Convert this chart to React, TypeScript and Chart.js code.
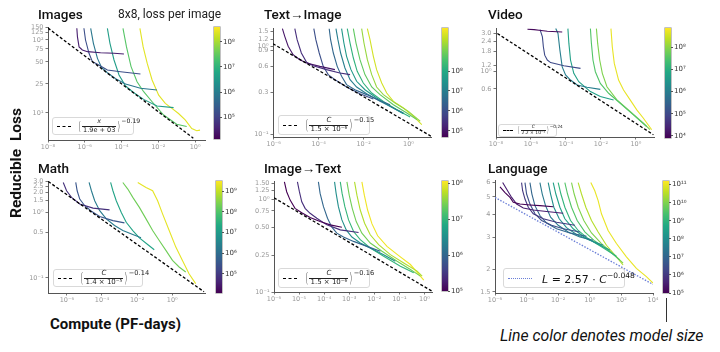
import React, { useEffect, useRef } from 'react';
import { Chart, registerables } from 'chart.js';

Chart.register(...registerables);

type Pt = [number, number];

// ================= DATA =================
// ---- Images (8x8) ----
const imagesXTicks = [1e-8, 1e-6, 1e-4, 1e-2, 1];
const imagesXLabels = ['10⁻⁸', '10⁻⁶', '10⁻⁴', '10⁻²', '10⁰'];
const imagesYTicks = [150, 125, 100, 75, 50, 25, 10];
const imagesYLabels = ['150', '125', '10²', '75', '50', '25', '10¹'];
const imagesModelSizes = [4.5, 5.2, 5.9, 6.6, 7.4, 8.4];
const imagesCurves: Pt[][] = [
  [[3.7e-7, 144], [4e-7, 110], [4.9e-7, 80], [7.4e-7, 72.6], [1.4e-6, 68.9], [7.2e-6, 66.7], [3.9e-5, 65.5], [1.35e-4, 64]],
  [[9e-7, 144], [1.1e-6, 99.5], [1.7e-6, 65.5], [2.6e-6, 50.2], [4.9e-6, 46.2], [1.7e-5, 38.6], [8.9e-5, 36.6], [1.07e-3, 34]],
  [[2.1e-6, 144], [2.95e-6, 89.5], [4.9e-6, 55.8], [8.3e-6, 41.6], [1.7e-5, 35.5], [4.8e-5, 29.4], [1.66e-4, 24.8], [1.07e-3, 21.7], [8.5e-3, 20.6]],
  [[1.7e-5, 144], [2.35e-5, 89.5], [3.9e-5, 53], [7.3e-5, 33], [1.66e-4, 23.3], [4.7e-4, 18.9], [1.6e-3, 15.3], [8.5e-3, 12.4], [0.068, 11.8]],
  [[1.2e-4, 144], [1.86e-4, 80], [3.3e-4, 43], [7e-4, 26.7], [1.6e-3, 19.5], [4.6e-3, 14.2], [0.0195, 9.35], [0.1, 7.0], [0.35, 6.5]],
  [[1e-3, 144], [1.5e-3, 80], [2.5e-3, 47.6], [4.6e-3, 28.2], [0.0105, 17.5], [0.024, 13.5], [0.055, 11.5], [0.126, 9.8], [0.29, 8.0], [0.66, 6.1], [1.23, 5.7], [1.86, 5.8]],
];
const imagesFrontier: Pt[] = [[1e-8, 145], [0.8, 4.5]];
const imagesCbarTicks = [5, 6, 7, 8];

// ---- Text -> Image ----
const t2iXTicks = [1e-6, 1e-4, 1e-2, 1];
const t2iXLabels = ['10⁻⁶', '10⁻⁴', '10⁻²', '10⁰'];
const t2iYTicks = [1.5, 1.2, 1.0, 0.9, 0.6, 0.3, 0.1];
const t2iYLabels = ['1.5', '1.2', '10⁰', '0.9', '0.6', '0.3', '10⁻¹'];
const t2iModelSizes = [5.0, 5.4, 6.0, 6.5, 7.0, 7.6, 8.2, 8.8, 9.3, 9.8];
const t2iCurves: Pt[][] = [
  [[2.44e-6, 1.6], [3.1e-6, 1.31], [4.4e-6, 1.01], [7.3e-6, 0.81], [1.45e-5, 0.711], [2.9e-5, 0.652], [1.13e-4, 0.597], [5.3e-4, 0.548]],
  [[8.7e-6, 1.6], [1.1e-5, 1.2], [1.7e-5, 0.847], [2.9e-5, 0.664], [5.7e-5, 0.608], [2.24e-4, 0.548], [8.8e-4, 0.502], [2.5e-3, 0.481]],
  [[6.1e-5, 1.6], [7.5e-5, 1.2], [1.06e-4, 0.847], [1.6e-4, 0.597], [2.67e-4, 0.481], [5.3e-4, 0.422], [1.75e-3, 0.348], [6.9e-3, 0.292], [0.0272, 0.254]],
  [[2.95e-4, 1.6], [3.4e-4, 1.2], [4.5e-4, 0.847], [6.7e-4, 0.597], [1.05e-3, 0.46], [1.75e-3, 0.37], [4.1e-3, 0.324], [0.0137, 0.285], [0.054, 0.243], [0.151, 0.219]],
  [[5.9e-4, 1.6], [7.2e-4, 1.2], [9.5e-4, 0.847], [1.48e-3, 0.573], [2.5e-3, 0.422], [4.9e-3, 0.348], [0.0137, 0.292], [0.054, 0.239], [0.212, 0.201], [0.594, 0.176]],
  [[1.05e-3, 1.6], [1.33e-3, 1.1], [1.75e-3, 0.776], [2.74e-3, 0.548], [4.9e-3, 0.404], [0.0115, 0.324], [0.038, 0.261], [0.151, 0.21], [0.594, 0.173]],
  [[1.88e-3, 1.6], [2.5e-3, 1.1], [3.5e-3, 0.743], [5.2e-3, 0.525], [9.7e-3, 0.386], [0.023, 0.297], [0.076, 0.239], [0.3, 0.192], [1.18, 0.159]],
  [[3.5e-3, 1.6], [4.6e-3, 1.1], [6.9e-3, 0.711], [0.0115, 0.481], [0.023, 0.348], [0.054, 0.285], [0.212, 0.219], [0.84, 0.176], [2.34, 0.148]],
  [[8.2e-3, 1.6], [0.0104, 1.1], [0.0147, 0.711], [0.023, 0.481], [0.038, 0.348], [0.076, 0.285], [0.252, 0.229], [0.99, 0.184], [3.3, 0.142]],
  [[0.0147, 1.6], [0.0193, 1.2], [0.0272, 0.776], [0.038, 0.548], [0.064, 0.386], [0.107, 0.297], [0.212, 0.239], [0.594, 0.201], [1.66, 0.161], [3.9, 0.13]],
];
const t2iFrontier: Pt[] = [[9.3e-7, 1.08], [10, 0.096]];
const t2iCbarTicks = [5, 6, 7, 8];

// ---- Video ----
const videoXTicks = [1e-8, 1e-6, 1e-4, 1e-2, 1];
const videoXLabels = ['10⁻⁸', '10⁻⁶', '10⁻⁴', '10⁻²', '10⁰'];
const videoYTicks = [3.0, 2.4, 1.8, 1.2, 1.0, 0.6];
const videoYLabels = ['3.0', '2.4', '1.8', '1.2', '10⁰', '0.6'];
const videoModelSizes = [4.0, 5.0, 6.0, 6.7, 7.5, 7.9, 8.7];
const videoCurves: Pt[][] = [
  [[6.3e-7, 3.4], [1.5e-6, 3.36], [2.9e-6, 3.3], [8.6e-6, 3.2], [6.1e-5, 3.14]],
  [[3.3e-6, 3.36], [4.5e-6, 2.72], [5.1e-6, 2.04], [6.1e-6, 1.6], [8.6e-6, 1.39], [1.33e-5, 1.29], [7.6e-5, 1.18], [6.8e-4, 1.09]],
  [[2.6e-5, 3.46], [3.5e-5, 3.0], [4.5e-5, 1.85], [6.1e-5, 1.14], [9.5e-5, 0.9], [1.82e-4, 0.778], [4.4e-4, 0.673], [1.6e-3, 0.63], [9.2e-3, 0.594]],
  [[1.29e-4, 3.46], [1.47e-4, 2.25], [1.82e-4, 1.39], [2.8e-4, 0.944], [5.4e-4, 0.741], [2.5e-3, 0.556], [9.2e-3, 0.481], [0.053, 0.437]],
  [[2.5e-3, 3.46], [2.85e-3, 2.25], [3.5e-3, 1.39], [4.8e-3, 0.99], [9.2e-3, 0.706], [0.0275, 0.53], [0.126, 0.397], [0.72, 0.283], [4.1, 0.202]],
  [[5.5e-3, 3.46], [6.5e-3, 2.25], [8.5e-3, 1.39], [0.012, 0.944], [0.022, 0.641], [0.082, 0.437], [0.468, 0.312], [2.68, 0.222], [6.4, 0.184]],
  [[0.0373, 3.46], [0.0445, 2.04], [0.058, 1.26], [0.102, 0.778], [0.196, 0.583], [0.468, 0.437], [1.12, 0.327], [2.68, 0.257], [8.0, 0.184]],
];
const videoFrontier: Pt[] = [[1.2e-8, 3.0], [10, 0.159]];
const videoCbarTicks = [4, 5, 6, 7, 8];

// ---- Math ----
const mathXTicks = [1e-6, 1e-4, 1e-2, 1];
const mathXLabels = ['10⁻⁶', '10⁻⁴', '10⁻²', '10⁰'];
const mathYTicks = [3.0, 2.5, 2.0, 1.5, 1.0, 0.5, 0.1];
const mathYLabels = ['3.0', '2.5', '2.0', '1.5', '10⁰', '0.5', '10⁻¹'];
const mathModelSizes = [4.8, 5.5, 6.3, 7.2, 8.3, 9.3];
const mathCurves: Pt[][] = [
  [[6.2e-7, 2.85], [9.6e-7, 2.13], [1.84e-6, 1.69], [5.4e-6, 1.34], [3.1e-5, 1.16], [2.7e-4, 1.09]],
  [[3.2e-6, 2.85], [3.85e-6, 2.13], [5.4e-6, 1.59], [1.04e-5, 1.26], [2.5e-5, 1.04], [7.4e-5, 0.861], [4.2e-4, 0.748], [1.9e-3, 0.69]],
  [[1.84e-5, 2.85], [2.5e-5, 2.13], [3.85e-5, 1.5], [7.4e-5, 1.06], [1.76e-4, 0.794], [5.2e-4, 0.629], [1.54e-3, 0.528], [5.7e-3, 0.459], [0.0168, 0.409]],
  [[3.1e-4, 2.85], [4.2e-4, 2.13], [6.5e-4, 1.5], [1.24e-3, 1.0], [2.4e-3, 0.706], [5.7e-3, 0.528], [0.0135, 0.409], [0.04, 0.324], [0.095, 0.269]],
  [[1.54e-3, 2.85], [2.96e-3, 2.26], [5.7e-3, 1.69], [0.0135, 1.19], [0.0323, 0.794], [0.077, 0.528], [0.183, 0.373], [0.438, 0.263], [1.04, 0.185], [2.48, 0.147], [5.9, 0.123]],
  [[0.0109, 2.85], [0.0323, 2.39], [0.077, 2.13], [0.148, 1.5], [0.283, 0.945], [0.675, 0.528], [1.61, 0.295], [3.84, 0.185], [9.1, 0.116], [21.8, 0.082]],
];
const mathFrontier: Pt[] = [[8.7e-8, 2.95], [65, 0.0616]];
const mathCbarTicks = [5, 6, 7, 8, 9];

// ---- Image -> Text ----
const i2tXTicks = [1e-6, 1e-5, 1e-4, 1e-3, 1e-2, 1e-1, 1];
const i2tXLabels = ['10⁻⁶', '10⁻⁵', '10⁻⁴', '10⁻³', '10⁻²', '10⁻¹', '10⁰'];
const i2tYTicks = [1.5, 1.25, 1.0, 0.75, 0.5, 0.25, 0.1];
const i2tYLabels = ['1.50', '1.25', '10⁰', '0.75', '0.50', '0.25', '10⁻¹'];
const i2tModelSizes = [5.0, 5.4, 6.0, 6.5, 7.0, 7.4, 7.7, 8.0];
const i2tCurves: Pt[][] = [
  [[2.6e-6, 1.545], [3.2e-6, 1.21], [4.4e-6, 0.983], [6.9e-6, 0.8], [1.28e-5, 0.719], [2.75e-5, 0.636], [6.9e-5, 0.576], [1.74e-4, 0.531], [5.1e-4, 0.501]],
  [[8.6e-6, 1.545], [1.03e-5, 1.21], [1.28e-5, 0.943], [1.74e-5, 0.8], [2.75e-5, 0.708], [5.1e-5, 0.626], [1.28e-4, 0.531], [4.4e-4, 0.469], [2.36e-3, 0.439]],
  [[5.9e-5, 1.545], [6.9e-5, 1.16], [9.4e-5, 0.834], [1.36e-4, 0.626], [2.03e-4, 0.501], [3.2e-4, 0.432], [5.9e-4, 0.392], [1.49e-3, 0.352], [5.1e-3, 0.311], [0.0174, 0.275]],
  [[2.6e-4, 1.545], [3.0e-4, 1.16], [3.7e-4, 0.834], [5.1e-4, 0.6], [7.6e-4, 0.469], [1.28e-3, 0.392], [2.75e-3, 0.338], [6.9e-3, 0.299], [0.0236, 0.253], [0.069, 0.215]],
  [[4.4e-4, 1.545], [5.2e-4, 1.16], [6.7e-4, 0.834], [9.4e-4, 0.6], [1.49e-3, 0.45], [2.75e-3, 0.367], [6.9e-3, 0.299], [0.0236, 0.243], [0.11, 0.19], [0.374, 0.161]],
  [[8.1e-4, 1.545], [1.0e-3, 1.11], [1.32e-3, 0.8], [1.9e-3, 0.576], [3.2e-3, 0.432], [6.9e-3, 0.338], [0.0203, 0.275], [0.081, 0.215], [0.275, 0.175], [0.69, 0.1485]],
  [[1.63e-3, 1.545], [2.03e-3, 1.11], [2.75e-3, 0.768], [4.1e-3, 0.553], [6.9e-3, 0.415], [0.0149, 0.324], [0.0437, 0.253], [0.149, 0.206], [0.51, 0.168], [0.81, 0.1485]],
  [[3.2e-3, 1.545], [4.0e-3, 1.11], [5.4e-3, 0.768], [8.1e-3, 0.544], [0.0136, 0.405], [0.0321, 0.311], [0.094, 0.247], [0.275, 0.198], [0.94, 0.1346]],
];
const i2tFrontier: Pt[] = [[1e-6, 1.04], [2.0, 0.102]];
const i2tCbarTicks = [5, 6, 7, 8];

// ---- Language ----
const langXTicks = [1e-6, 1e-4, 1e-2, 1, 1e2, 1e4];
const langXLabels = ['10⁻⁶', '10⁻⁴', '10⁻²', '10⁰', '10²', '10⁴'];
const langYTicks = [6, 5, 4, 3, 2, 1.5];
const langYLabels = ['6', '5', '4', '3', '2', '1.5'];
const langModelSizes = [5.0, 5.5, 6.0, 6.5, 7.0, 7.5, 8.0, 8.5, 9.0, 9.5, 10.0, 10.5, 11.0];
const langCurves: Pt[][] = [
  [[2.07e-6, 5.68], [4.3e-6, 5.29], [8.9e-6, 4.97], [1.44e-5, 4.67], [3.8e-5, 4.57], [1.63e-4, 4.52], [6.97e-4, 4.48], [4.84e-3, 4.42]],
  [[3.05e-6, 6.0], [5.5e-6, 5.52], [1.13e-5, 4.97], [2.34e-5, 4.57], [6.2e-5, 4.35], [2.64e-4, 4.24], [1.84e-3, 4.16], [0.0207, 4.07]],
  [[4.8e-5, 6.0], [5.6e-5, 5.41], [7.9e-5, 4.87], [1.28e-4, 4.39], [2.64e-4, 4.04], [1.13e-3, 3.79], [7.9e-3, 3.63], [0.113, 3.49]],
  [[7.9e-5, 6.0], [1.0e-4, 5.19], [1.63e-4, 4.57], [3.37e-4, 4.04], [8.9e-4, 3.71], [3.8e-3, 3.49], [0.0207, 3.34], [0.234, 3.21]],
  [[1.63e-4, 6.0], [2.17e-4, 5.19], [3.37e-4, 4.48], [6.97e-4, 3.95], [1.84e-3, 3.59], [7.9e-3, 3.34], [0.0547, 3.17], [0.618, 3.04]],
  [[6.97e-4, 6.0], [9.8e-4, 5.19], [1.58e-3, 4.48], [3.3e-3, 3.87], [0.01, 3.49], [0.0429, 3.21], [0.234, 3.01], [1.63, 2.89]],
  [[2.34e-3, 6.0], [3.3e-3, 5.19], [5.3e-3, 4.39], [0.0116, 3.79], [0.0337, 3.39], [0.144, 3.11], [1.0, 2.89], [6.97, 2.71]],
  [[4.84e-3, 6.0], [7.1e-3, 5.19], [0.0128, 4.39], [0.0264, 3.79], [0.0887, 3.34], [0.38, 3.04], [2.65, 2.77], [18.4, 2.55]],
  [[0.01, 6.0], [0.0148, 5.19], [0.0264, 4.39], [0.0603, 3.71], [0.184, 3.27], [0.787, 2.95], [5.47, 2.66], [48.5, 2.36]],
  [[0.0264, 6.0], [0.039, 5.19], [0.0697, 4.39], [0.159, 3.71], [0.484, 3.21], [2.07, 2.86], [14.4, 2.55], [78.7, 2.25]],
  [[0.0697, 6.0], [0.1026, 5.19], [0.184, 4.39], [0.419, 3.71], [1.28, 3.17], [5.47, 2.77], [29.9, 2.44], [128, 2.16]],
  [[0.184, 6.0], [0.299, 5.19], [0.561, 4.39], [1.28, 3.71], [3.37, 3.21], [11.3, 2.71], [48.5, 2.34], [128, 2.11]],
  [[1.16, 6.0], [2.07, 5.41], [3.37, 4.77], [5.47, 4.04], [14.4, 3.27], [48.5, 2.77], [208, 2.34], [889, 2.02], [3810, 1.82], [1.0e4, 1.68]],
];
const langFrontier: Pt[] = [[1e-6, 4.97], [1e4, 1.65]];
const langCbarTicks = [5, 6, 7, 8, 9, 10, 11];

// ================= STYLE / LAYOUT =================
const VIRIDIS = ['#440154', '#482475', '#414487', '#355f8d', '#2a788e', '#21918c', '#22a884', '#44bf70', '#7ad151', '#bddf26', '#fde725'];
const hexRgb = (h: string) => [parseInt(h.slice(1, 3), 16), parseInt(h.slice(3, 5), 16), parseInt(h.slice(5, 7), 16)];
function viridis(t: number) {
  const tt = Math.max(0, Math.min(1, t));
  const f = tt * (VIRIDIS.length - 1);
  const i = Math.min(Math.floor(f), VIRIDIS.length - 2);
  const u = f - i;
  const a = hexRgb(VIRIDIS[i]);
  const b = hexRgb(VIRIDIS[i + 1]);
  return `rgb(${a.map((v, k) => Math.round(v + (b[k] - v) * u)).join(',')})`;
}
const SUP: Record<string, string> = { '0': '⁰', '1': '¹', '2': '²', '3': '³', '4': '⁴', '5': '⁵', '6': '⁶', '7': '⁷', '8': '⁸', '9': '⁹', '-': '⁻' };
const pow10 = (e: number) => '10' + String(e).split('').map((c) => SUP[c] || c).join('');

const YW = 40, XH = 16, PADT = 8, PADR = 14;
const TICK_FONT = { family: 'DejaVu Sans', size: 6.5 };

type PanelCfg = {
  plot: { l: number; t: number; r: number; b: number };
  xMin: number; xMax: number; yMin: number; yMax: number;
  xTicks: number[]; xLabels: string[]; yTicks: number[]; yLabels: string[];
  curves: Pt[][]; sizes: number[]; frontier: Pt[];
  frontierColor: string; frontierDash: number[];
  cbar: { x: number; t: number; b: number; w: number; min: number; max: number; ticks: number[] };
};

const PANELS: PanelCfg[] = [
  {
    plot: { l: 48, t: 27, r: 205, b: 140 }, xMin: 1e-8, xMax: 3.47, yMin: 4.25, yMax: 150,
    xTicks: imagesXTicks, xLabels: imagesXLabels, yTicks: imagesYTicks, yLabels: imagesYLabels,
    curves: imagesCurves, sizes: imagesModelSizes, frontier: imagesFrontier, frontierColor: '#000', frontierDash: [3, 2],
    cbar: { x: 214, t: 27, b: 139, w: 6, min: 4.13, max: 8.59, ticks: imagesCbarTicks },
  },
  {
    plot: { l: 273, t: 28, r: 431, b: 137 }, xMin: 9.3e-7, xMax: 10, yMin: 0.094, yMax: 1.63,
    xTicks: t2iXTicks, xLabels: t2iXLabels, yTicks: t2iYTicks, yLabels: t2iYLabels,
    curves: t2iCurves, sizes: t2iModelSizes, frontier: t2iFrontier, frontierColor: '#000', frontierDash: [3, 2],
    cbar: { x: 442, t: 28, b: 137, w: 6, min: 4.68, max: 10.17, ticks: t2iCbarTicks },
  },
  {
    plot: { l: 496, t: 28, r: 654, b: 137 }, xMin: 1e-8, xMax: 10.8, yMin: 0.149, yMax: 3.52,
    xTicks: videoXTicks, xLabels: videoXLabels, yTicks: videoYTicks, yLabels: videoYLabels,
    curves: videoCurves, sizes: videoModelSizes, frontier: videoFrontier, frontierColor: '#000', frontierDash: [3, 2],
    cbar: { x: 665, t: 28, b: 138, w: 6, min: 3.9, max: 8.86, ticks: videoCbarTicks },
  },
  {
    plot: { l: 48, t: 181, r: 205, b: 293 }, xMin: 8.4e-8, xMax: 74, yMin: 0.059, yMax: 3.0,
    xTicks: mathXTicks, xLabels: mathXLabels, yTicks: mathYTicks, yLabels: mathYLabels,
    curves: mathCurves, sizes: mathModelSizes, frontier: mathFrontier, frontierColor: '#000', frontierDash: [3, 2],
    cbar: { x: 216, t: 181, b: 293, w: 6, min: 4.06, max: 9.5, ticks: mathCbarTicks },
  },
  {
    plot: { l: 274, t: 181, r: 432, b: 292 }, xMin: 1e-6, xMax: 2.0, yMin: 0.1, yMax: 1.58,
    xTicks: i2tXTicks, xLabels: i2tXLabels, yTicks: i2tYTicks, yLabels: i2tYLabels,
    curves: i2tCurves, sizes: i2tModelSizes, frontier: i2tFrontier, frontierColor: '#000', frontierDash: [3, 2],
    cbar: { x: 442, t: 181, b: 291, w: 6, min: 5, max: 8.06, ticks: i2tCbarTicks },
  },
  {
    plot: { l: 495, t: 180, r: 653, b: 293 }, xMin: 1e-6, xMax: 1e4, yMin: 1.48, yMax: 6.2,
    xTicks: langXTicks, xLabels: langXLabels, yTicks: langYTicks, yLabels: langYLabels,
    curves: langCurves, sizes: langModelSizes, frontier: langFrontier, frontierColor: '#6b7fd7', frontierDash: [1.5, 1.5],
    cbar: { x: 663, t: 181, b: 293, w: 6, min: 5, max: 11.19, ticks: langCbarTicks },
  },
];

// ================= COMPONENTS =================
function Panel({ cfg }: { cfg: PanelCfg }) {
  const ref = useRef<HTMLCanvasElement | null>(null);
  const { plot } = cfg;
  const w = plot.r - plot.l + YW + PADR;
  const h = plot.b - plot.t + PADT + XH;
  useEffect(() => {
    if (!ref.current) return;
    const { min, max } = cfg.cbar;
    const datasets: any[] = [
      {
        data: cfg.frontier.map(([x, y]) => ({ x, y })),
        borderColor: cfg.frontierColor, borderDash: cfg.frontierDash, borderWidth: 1.3,
        pointRadius: 0, showLine: true, fill: false,
      },
      ...cfg.curves.map((c, i) => ({
        data: c.map(([x, y]) => ({ x, y })),
        borderColor: viridis((cfg.sizes[i] - min) / (max - min)),
        borderWidth: 1.1, pointRadius: 0, showLine: true, fill: false, tension: 0,
      })),
    ];
    const axisCommon = {
      type: 'logarithmic' as const,
      bounds: 'data' as const,
      grid: { display: true, drawOnChartArea: false, drawTicks: true, tickLength: 2.5, color: '#777' },
      border: { display: true, color: '#555', width: 1 },
    };
    const chart = new Chart(ref.current, {
      type: 'scatter',
      data: { datasets },
      options: {
        animation: false, responsive: false, maintainAspectRatio: false, events: [],
        layout: { padding: { top: PADT, right: PADR, left: 0, bottom: 0 } },
        plugins: { legend: { display: false }, tooltip: { enabled: false } },
        scales: {
          x: {
            ...axisCommon, min: cfg.xMin, max: cfg.xMax,
            afterFit: (s: any) => { s.height = XH; },
            afterBuildTicks: (s: any) => { s.ticks = cfg.xTicks.map((v) => ({ value: v })); },
            ticks: { autoSkip: false, maxRotation: 0, padding: 1, color: '#999', font: TICK_FONT, callback: (_v: any, i: number) => cfg.xLabels[i] },
          },
          y: {
            ...axisCommon, min: cfg.yMin, max: cfg.yMax,
            afterFit: (s: any) => { s.width = YW; },
            afterBuildTicks: (s: any) => { s.ticks = cfg.yTicks.map((v) => ({ value: v })); },
            ticks: { autoSkip: false, padding: 2, color: '#999', font: TICK_FONT, callback: (_v: any, i: number) => cfg.yLabels[i] },
          },
        },
      } as any,
    });
    return () => chart.destroy();
  }, []);
  return (
    <canvas ref={ref} width={w} height={h}
      style={{ position: 'absolute', left: plot.l - YW, top: plot.t - PADT, width: w, height: h }} />
  );
}

function ColorBar({ c }: { c: PanelCfg['cbar'] }) {
  const hgt = c.b - c.t;
  return (
    <>
      <div style={{ position: 'absolute', left: c.x, top: c.t, width: c.w, height: hgt, background: `linear-gradient(to top, ${VIRIDIS.join(',')})`, boxShadow: '0 0 0 0.6px #999' }} />
      {c.ticks.map((e) => {
        const y = c.b - ((e - c.min) / (c.max - c.min)) * hgt;
        return (
          <React.Fragment key={e}>
            <div style={{ position: 'absolute', left: c.x + c.w, top: y - 0.5, width: 2, height: 1, background: '#555' }} />
            <div style={{ position: 'absolute', left: c.x + c.w + 3, top: y - 5, fontSize: 7, lineHeight: '10px', color: '#333', fontFamily: 'DejaVu Sans', whiteSpace: 'nowrap' }}>{pow10(e)}</div>
          </React.Fragment>
        );
      })}
    </>
  );
}

function Frac({ num, den, exp, size }: { num: string; den: string; exp: string; size: number }) {
  return (
    <span style={{ display: 'inline-flex', alignItems: 'center', fontSize: size, fontFamily: 'DejaVu Sans', color: '#222', whiteSpace: 'nowrap' }}>
      <span style={{ fontSize: size * 2, lineHeight: 1, display: 'inline-block', transform: 'scaleX(0.55)', fontWeight: 300 }}>(</span>
      <span style={{ display: 'inline-flex', flexDirection: 'column', alignItems: 'center', lineHeight: 1.1 }}>
        <span style={{ fontStyle: 'italic' }}>{num}</span>
        <span style={{ borderTop: '0.7px solid #222', padding: '0 1px' }}>{den}</span>
      </span>
      <span style={{ fontSize: size * 2, lineHeight: 1, display: 'inline-block', transform: 'scaleX(0.55)', fontWeight: 300 }}>)</span>
      <span style={{ alignSelf: 'flex-start', fontSize: size * 0.95, marginTop: -1 }}>{exp}</span>
    </span>
  );
}

function LegendBox({ l, t, w, h, sample, sampleW, gap, children }: any) {
  return (
    <div style={{ position: 'absolute', left: l, top: t, width: w, height: h, boxSizing: 'border-box', border: '1px solid #d9d9d9', borderRadius: 3, background: 'rgba(255,255,255,0.9)', display: 'flex', alignItems: 'center', paddingLeft: 4 }}>
      <div style={{ width: sampleW, height: 0, borderTop: sample, marginRight: gap, flex: 'none' }} />
      {children}
    </div>
  );
}

const titleStyle: React.CSSProperties = { position: 'absolute', fontFamily: 'Roboto, sans-serif', fontWeight: 500, fontSize: 13.5, lineHeight: '16px', color: '#111', whiteSpace: 'nowrap' };

export default function App() {
  useEffect(() => {
    document.body.style.margin = '0';
  }, []);
  return (
    <div style={{ position: 'absolute', left: 0, top: 0, width: 720, height: 352, background: '#fff', overflow: 'hidden' }}>
      {PANELS.map((p, i) => <Panel key={i} cfg={p} />)}
      {PANELS.map((p, i) => <ColorBar key={'c' + i} c={p.cbar} />)}

      <div style={{ ...titleStyle, left: 38, top: 6 }}>Images</div>
      <div style={{ ...titleStyle, left: 118, top: 6, fontWeight: 400, fontSize: 12, color: '#222' }}>8x8, loss per image</div>
      <div style={{ ...titleStyle, left: 264, top: 6 }}>Text→Image</div>
      <div style={{ ...titleStyle, left: 488, top: 6 }}>Video</div>
      <div style={{ ...titleStyle, left: 38, top: 160 }}>Math</div>
      <div style={{ ...titleStyle, left: 264, top: 160 }}>Image→Text</div>
      <div style={{ ...titleStyle, left: 488, top: 160 }}>Language</div>

      <LegendBox l={52} t={117} w={82} h={18} sample="1.4px dashed #000" sampleW={14} gap={6}>
        <Frac num="x" den="1.9e + 03" exp="−0.19" size={6.5} />
      </LegendBox>
      <LegendBox l={278} t={115} w={92} h={20} sample="1.4px dashed #000" sampleW={14} gap={7}>
        <Frac num="C" den="1.5 × 10⁻⁶" exp="−0.15" size={7} />
      </LegendBox>
      <LegendBox l={498} t={124} w={59} h={13} sample="1.2px dashed #000" sampleW={10} gap={4}>
        <Frac num="C" den="2.2 × 10⁻⁵" exp="−0.24" size={4.5} />
      </LegendBox>
      <LegendBox l={53} t={269} w={90} h={18} sample="1.4px dashed #000" sampleW={14} gap={7}>
        <Frac num="C" den="1.4 × 10⁻⁵" exp="−0.14" size={7} />
      </LegendBox>
      <LegendBox l={278} t={268} w={92} h={20} sample="1.4px dashed #000" sampleW={14} gap={7}>
        <Frac num="C" den="1.5 × 10⁻⁶" exp="−0.16" size={7} />
      </LegendBox>
      <LegendBox l={503} t={268} w={122} h={20} sample="1.2px dotted #6b7fd7" sampleW={24} gap={10}>
        <span style={{ fontFamily: 'DejaVu Sans', fontSize: 11, color: '#111', whiteSpace: 'nowrap' }}>
          <i>L</i> = 2.57 · <i>C</i><sup style={{ fontSize: 7.5 }}>−0.048</sup>
        </span>
      </LegendBox>

      <div style={{ position: 'absolute', left: 16, top: 163, transform: 'translate(-50%, -50%) rotate(-90deg)', fontFamily: 'Roboto, sans-serif', fontWeight: 700, fontSize: 15.5, whiteSpace: 'nowrap', color: '#111', wordSpacing: 4 }}>
        Reducible Loss
      </div>
      <div style={{ position: 'absolute', left: 50, top: 315, fontFamily: 'Roboto, sans-serif', fontWeight: 700, fontSize: 15, whiteSpace: 'nowrap', color: '#111' }}>
        Compute (PF-days)
      </div>
      <div style={{ position: 'absolute', left: 665.5, top: 298, width: 1.3, height: 24, background: '#333' }} />
      <div style={{ position: 'absolute', left: 500, top: 326, fontFamily: 'Roboto, sans-serif', fontStyle: 'italic', fontSize: 15.8, whiteSpace: 'nowrap', color: '#111' }}>
        Line color denotes model size
      </div>
    </div>
  );
}
